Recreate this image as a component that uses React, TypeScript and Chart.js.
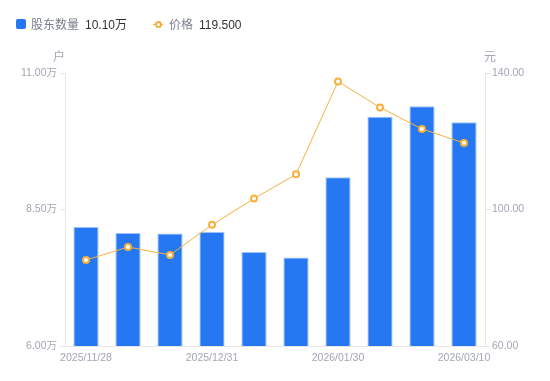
import React, { useEffect, useRef } from "react";
import { Chart, registerables } from "chart.js";

Chart.register(...registerables);

const categories = [
  "2025/11/28", "2025/12/10", "2025/12/19", "2025/12/31", "2026/01/09",
  "2026/01/20", "2026/01/30", "2026/02/13", "2026/02/27", "2026/03/10",
];
const holders = [81800, 80700, 80600, 80900, 77200, 76200, 90900, 102000, 103900, 101000];
const prices = [85.2, 89.0, 86.7, 95.5, 103.2, 110.3, 137.5, 129.9, 123.6, 119.5];
const shownTickIdx = [0, 3, 6, 9];

const FONT = "'Liberation Sans', 'Noto Sans CJK SC', sans-serif";
const BLUE = "#2677F2";
const ORANGE = "#F7B03C";
const GRAY = "#A3A6B4";

const axisTitles = {
  id: "axisTitles",
  afterDraw(chart: any) {
    const { ctx, chartArea } = chart;
    ctx.save();
    ctx.font = `12px ${FONT}`;
    ctx.fillStyle = GRAY;
    ctx.textAlign = "center";
    ctx.textBaseline = "middle";
    ctx.fillText("户", chartArea.left - 6, chartArea.top - 15);
    ctx.fillText("元", chartArea.right + 5, chartArea.top - 15);
    ctx.restore();
  },
};

export default function App() {
  const ref = useRef<HTMLCanvasElement>(null);
  useEffect(() => {
    const chart = new Chart(ref.current!, {
      type: "bar",
      data: {
        labels: categories,
        datasets: [
          {
            type: "line",
            label: "价格",
            data: prices,
            yAxisID: "y1",
            borderColor: ORANGE,
            borderWidth: 1,
            pointRadius: 3,
            pointBorderWidth: 2,
            pointBackgroundColor: "#fff",
            pointBorderColor: ORANGE,
            tension: 0,
            order: 0,
          } as any,
          {
            type: "bar",
            label: "股东数量",
            data: holders,
            yAxisID: "y",
            backgroundColor: BLUE,
            borderColor: "#9CC2F8",
            borderWidth: { top: 1, left: 1, right: 1, bottom: 0 },
            barPercentage: 0.6,
            categoryPercentage: 1,
            order: 1,
          } as any,
        ],
      },
      options: {
        animation: false,
        responsive: false,
        layout: { padding: { top: 73, left: 0, right: 0, bottom: 0 } },
        plugins: { legend: { display: false }, tooltip: { enabled: false } },
        scales: {
          x: {
            grid: { display: false, drawTicks: false },
            border: { color: "#E6E6E6" },
            ticks: {
              autoSkip: false,
              maxRotation: 0,
              padding: 6,
              color: GRAY,
              font: { family: FONT, size: 10.5 },
              callback: (v: any, i: number) => (shownTickIdx.includes(i) ? categories[i] : ""),
            },
            afterFit: (s: any) => { s.height = 35; },
          },
          y: {
            position: "left",
            min: 60000,
            max: 110000,
            grid: { drawOnChartArea: false, tickLength: 5, color: "#E6E6E6" },
            border: { color: "#E6E6E6" },
            ticks: {
              stepSize: 25000,
              padding: 3,
              color: GRAY,
              font: { family: FONT, size: 10.5 },
              callback: (v: any) => (Number(v) / 10000).toFixed(2) + "万",
            },
            afterFit: (s: any) => { s.width = 65; },
          },
          y1: {
            position: "right",
            min: 60,
            max: 140,
            grid: { drawOnChartArea: false, tickLength: 5, color: "#E6E6E6" },
            border: { color: "#E6E6E6" },
            ticks: {
              stepSize: 40,
              padding: 2,
              color: GRAY,
              font: { family: FONT, size: 10.5 },
              callback: (v: any) => Number(v).toFixed(2),
            },
            afterFit: (s: any) => { s.width = 65; },
          },
        },
      },
      plugins: [axisTitles],
    });
    return () => chart.destroy();
  }, []);

  const text: React.CSSProperties = { position: "absolute", top: 17, fontSize: 12, fontFamily: FONT, lineHeight: "16px", whiteSpace: "nowrap" };
  return (
    <div style={{ position: "absolute", left: 0, top: 0, width: 550, height: 381, background: "#fff" }}>
      <canvas ref={ref} width={550} height={381} style={{ position: "absolute", left: 0, top: 0 }} />
      <div style={{ position: "absolute", left: 16, top: 19, width: 10, height: 10, borderRadius: 2, background: BLUE }} />
      <div style={{ ...text, left: 31, color: "#7B7F8E" }}>股东数量</div>
      <div style={{ ...text, left: 85, color: "#333" }}>10.10万</div>
      <div style={{ position: "absolute", left: 153, top: 24, width: 10, height: 1, background: ORANGE }} />
      <div style={{ position: "absolute", left: 155, top: 21, width: 3, height: 3, borderRadius: "50%", border: `2px solid ${ORANGE}`, background: "#fff" }} />
      <div style={{ ...text, left: 169, color: "#7B7F8E" }}>价格</div>
      <div style={{ ...text, left: 199, color: "#333" }}>119.500</div>
    </div>
  );
}
